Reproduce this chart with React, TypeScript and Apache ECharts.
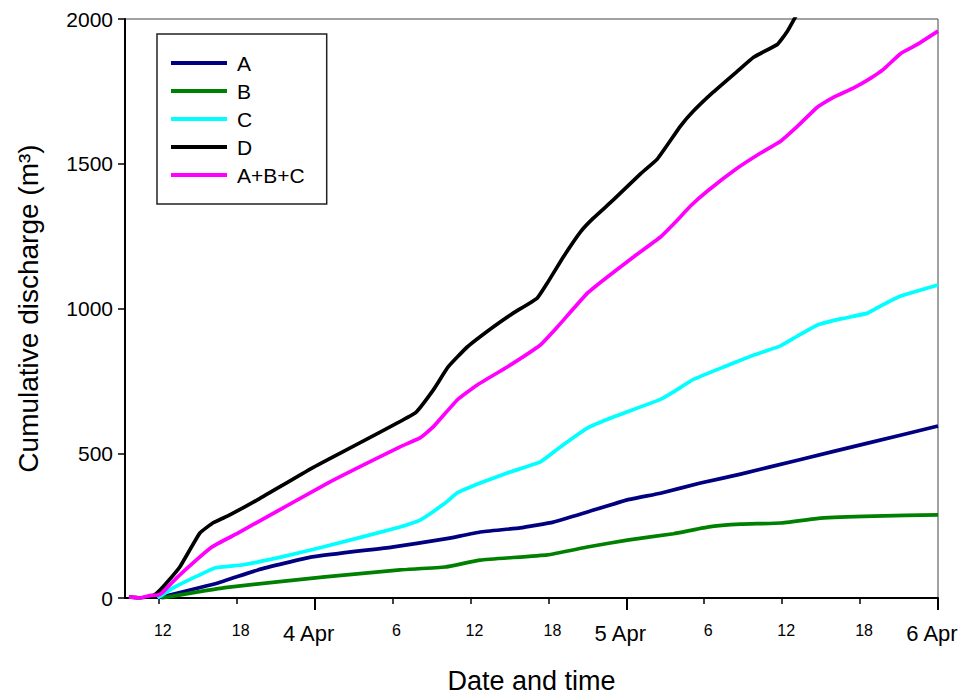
import React, { useEffect, useRef } from "react";
import * as echarts from "echarts";

// Time is in hours since 3 Apr 00:00; values are cumulative discharge in m³.
const seriesNames = ["A", "B", "C", "D", "A+B+C"];
const seriesColors = ["#000080", "#008000", "#00ffff", "#000000", "#ff00ff"];

const hoursA = [11.9, 16.55, 19.63, 23.8, 29.96, 34.05, 36.75, 39.83, 42.38, 45.0, 48.08, 50.63, 53.71, 56.8, 61.19, 66.59, 72];
const valuesA = [0, 52, 97, 142, 176, 204, 228, 242, 262, 297, 339, 362, 397, 428, 476, 535, 594];

const hoursB = [12.2, 17.09, 24.8, 30.58, 34.05, 36.75, 41.92, 45.0, 48.08, 51.63, 54.25, 56.8, 59.88, 62.96, 67.05, 72];
const valuesB = [0, 36, 73, 97, 107, 131, 149, 176, 200, 222, 245, 255, 259, 276, 283, 287];

const hoursC = [11.9, 13.23, 16.32, 18.4, 21.48, 24.8, 30.58, 32.12, 34.05, 34.98, 36.75, 38.83, 41.38, 42.92, 45.0, 47.0, 50.63, 51.63, 53.17, 55.49, 57.8, 59.88, 61.19, 62.73, 64.51, 66.59, 67.59, 69.13, 72];
const valuesC = [0, 38, 104, 114, 142, 178, 245, 269, 328, 363, 397, 432, 470, 522, 587, 625, 686, 712, 755, 798, 839, 871, 905, 943, 964, 984, 1009, 1043, 1081];

const hoursD = [9.7, 10.54, 11.5, 11.85, 12.46, 13.62, 15.16, 16.16, 17.47, 19.56, 23.8, 31.74, 33.13, 34.28, 35.75, 37.75, 39.29, 41.14, 41.92, 43.15, 44.46, 45.46, 47.0, 49.09, 50.4, 52.17, 53.17, 54.71, 56.56, 57.8, 59.65, 60.42, 61.3];
const valuesD = [4, 0, 8, 17, 45, 107, 224, 259, 287, 338, 449, 639, 718, 798, 867, 936, 984, 1036, 1088, 1178, 1264, 1312, 1375, 1465, 1517, 1630, 1682, 1748, 1820, 1868, 1913, 1959, 2030];

const hoursABC = [9.7, 10.54, 11.4, 11.92, 12.23, 13.46, 16.09, 18.09, 24.8, 30.58, 32.12, 33.13, 34.98, 36.52, 38.83, 41.38, 42.69, 45.0, 46.54, 48.55, 50.63, 51.94, 52.94, 54.25, 56.56, 58.34, 59.88, 61.19, 62.73, 63.97, 65.51, 66.82, 67.82, 69.13, 70.44, 72];
const valuesABC = [4, 0, 9, 10, 17, 73, 176, 224, 392, 522, 553, 591, 684, 736, 798, 874, 936, 1053, 1109, 1178, 1247, 1306, 1354, 1406, 1485, 1537, 1578, 1630, 1696, 1730, 1762, 1796, 1827, 1881, 1913, 1958];

const hourTicks = [12, 18, 30, 36, 42, 54, 60, 66];
const dayTicks = [24, 48, 72];
const yTicks = { min: 0, max: 2000, interval: 500 };

const FONT = "'Liberation Sans', Arial, sans-serif";

function pairs(h: number[], v: number[]) {
  return h.map((t, i) => [t, v[i]]);
}

export default function App() {
  const ref = useRef<HTMLDivElement>(null);

  useEffect(() => {
    if (!ref.current) return;
    const chart = echarts.init(ref.current, undefined, { renderer: "svg" });

    const seriesData = [
      pairs(hoursA, valuesA),
      pairs(hoursB, valuesB),
      pairs(hoursC, valuesC),
      pairs(hoursD, valuesD),
      pairs(hoursABC, valuesABC),
    ];

    const xBase = {
      type: "value",
      min: 9.4,
      max: 72,
      position: "bottom",
      splitLine: { show: false },
    };

    chart.setOption({
      animation: false,
      textStyle: { fontFamily: FONT },
      grid: {
        left: 125,
        top: 19,
        right: 24,
        bottom: 97,
        outerBoundsMode: "none",
        containLabel: false,
        show: true,
        borderColor: "#444",
        borderWidth: 1,
        backgroundColor: "transparent",
      },
      legend: {
        left: 157,
        top: 34,
        orient: "vertical",
        data: seriesNames,
        icon: "rect",
        itemWidth: 56,
        itemHeight: 4,
        itemGap: 4,
        padding: [17, 22, 17, 14],
        borderColor: "#222",
        borderWidth: 1.5,
        backgroundColor: "#fff",
        textStyle: {
          fontFamily: FONT,
          fontSize: 21,
          lineHeight: 24,
          color: "#000",
          padding: [0, 0, 0, 5],
        },
      },
      xAxis: [
        {
          ...xBase,
          axisLine: { show: true, lineStyle: { color: "#000", width: 2 } },
          axisTick: {
            show: true,
            customValues: hourTicks,
            length: 6,
            lineStyle: { color: "#000", width: 1.5 },
          },
          axisLabel: {
            customValues: hourTicks,
            formatter: (v: number) => String(v % 24),
            fontFamily: FONT,
            fontSize: 16,
            lineHeight: 16,
            color: "#000",
            margin: 24,
            padding: [0, 0, 0, 8],
          },
        },
        {
          ...xBase,
          axisLine: { show: false },
          axisTick: {
            show: true,
            customValues: dayTicks,
            length: 12,
            lineStyle: { color: "#000", width: 2 },
          },
          axisLabel: {
            customValues: dayTicks,
            formatter: (v: number) => `${v / 24 + 3} Apr`,
            fontFamily: FONT,
            fontSize: 22,
            lineHeight: 22,
            color: "#000",
            margin: 24,
            padding: [0, 12, 0, 0],
          },
          name: "Date and time",
          nameLocation: "middle",
          nameGap: 69,
          nameTextStyle: { fontFamily: FONT, fontSize: 27, lineHeight: 27, color: "#000" },
        },
      ],
      yAxis: {
        type: "value",
        min: yTicks.min,
        max: yTicks.max,
        interval: yTicks.interval,
        splitLine: { show: false },
        axisLine: { show: true, lineStyle: { color: "#000", width: 2 } },
        axisTick: { show: true, length: 7, lineStyle: { color: "#000", width: 1.5 } },
        axisLabel: {
          fontFamily: FONT,
          fontSize: 21,
          color: "#000",
          margin: 12,
          formatter: (v: number) => String(v),
        },
        name: "Cumulative discharge (m³)",
        nameLocation: "middle",
        nameGap: 83,
        nameTextStyle: { fontFamily: FONT, fontSize: 28, lineHeight: 28, color: "#000" },
      },
      series: seriesNames.map((name, i) => ({
        name,
        type: "line",
        xAxisIndex: 0,
        data: seriesData[i],
        showSymbol: false,
        smooth: 0.12,
        clip: true,
        color: seriesColors[i],
        lineStyle: { color: seriesColors[i], width: 3.7, join: "round" },
        z: 2 + i,
      })),
    });

    return () => chart.dispose();
  }, []);

  return <div ref={ref} style={{ width: 962, height: 695, position: "absolute", left: 0, top: 0 }} />;
}
